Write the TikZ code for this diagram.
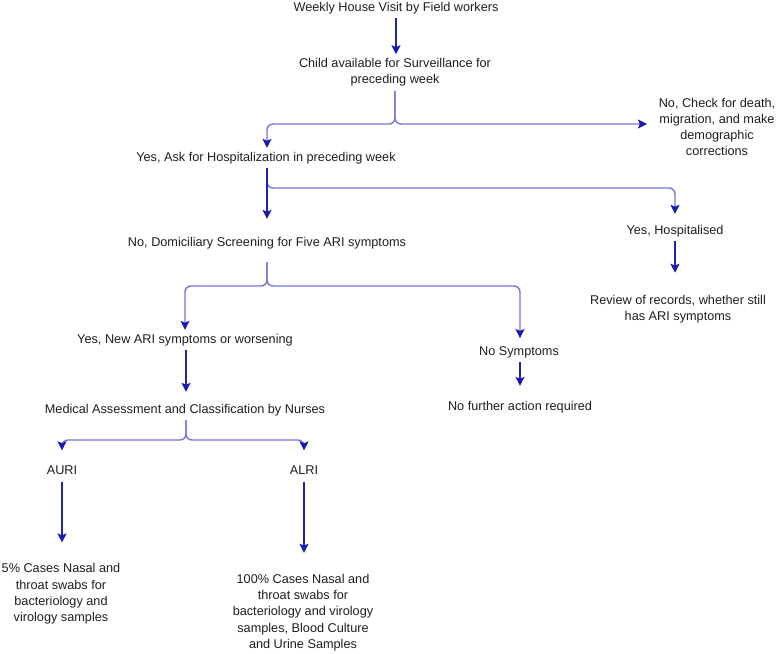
\documentclass[tikz,border=0pt]{standalone}
\usepackage{fontspec}
\setmainfont{Liberation Sans}
\usetikzlibrary{arrows.meta}
\definecolor{navy}{RGB}{36,36,168}
\definecolor{lav}{RGB}{118,118,212}
\definecolor{tipc}{RGB}{26,26,172}
\tikzset{
  lbl/.style={inner xsep=2pt, inner ysep=4pt, align=center, text=black!88, font=\fontsize{12.7}{16.3}\selectfont},
  arr/.style={draw=navy, line width=1.4pt, -{Stealth[width=9pt,length=9pt,inset=1.8pt,color=tipc]}},
  br/.style={draw=lav, line width=1.4pt, rounded corners=6pt, -{Stealth[width=9pt,length=9pt,inset=1.8pt,color=tipc]}},
}
\begin{document}
\begin{tikzpicture}[x=1pt,y=-1pt]
\useasboundingbox (0,0) rectangle (778,653);
\fill[white] (0,0) rectangle (778,653);

\node[lbl] (w) at (396,8) {Weekly House Visit by Field workers};
\node[lbl] (c) at (395,72.5) {Child available for Surveillance for\\preceding week};
\node[lbl] (nd) at (717,127) {No, Check for death,\\migration, and make\\demographic\\corrections};
\node[lbl] (y1) at (266,158) {Yes, Ask for Hospitalization in preceding week};
\node[lbl] (dom) at (267,243) {No, Domiciliary Screening for Five ARI symptoms};
\node[lbl] (hosp) at (675,231) {Yes, Hospitalised};
\node[lbl] (rev) at (678,309) {Review of records, whether still\\has ARI symptoms};
\node[lbl] (yes2) at (185,340) {Yes, New ARI symptoms or worsening};
\node[lbl] (nos) at (519,352) {No Symptoms};
\node[lbl] (nf) at (520,407) {No further action required};
\node[lbl] (med) at (185,410) {Medical Assessment and Classification by Nurses};
\node[lbl] (auri) at (62,470) {AURI};
\node[lbl] (alri) at (304,470) {ALRI};
\node[lbl] (s5) at (61,594) {5\% Cases Nasal and\\throat swabs for\\bacteriology and\\virology samples};
\node[lbl] (s100) at (303,612.5) {100\% Cases Nasal and\\throat swabs for\\bacteriology and virology\\samples, Blood Culture\\and Urine Samples};

\coordinate (b1) at (395,124);
\coordinate (e1) at (647,124);
\coordinate (b2) at (267,188);
\coordinate (b3) at (267,286);
\coordinate (b4) at (186,440);

% connectors
\draw[arr] (w.south -| 396,0) -- (c.north -| 396,0);

\draw[br] (c.south -| b1) -- (b1) -| (y1.north -| b2);
\draw[br] (c.south -| b1) -- (b1) -- (e1);

\draw[br, shorten >=7pt] (y1.south -| b2) -- (b2) -| (hosp.north);
\draw[arr, shorten >=14pt] (y1.south -| b2) -- (dom.north -| b2);

\draw[arr, shorten >=18pt] (hosp.south) -- (hosp.south |- rev.north);

\draw[br, shorten <=9pt] (dom.south -| b3) -- (b3) -| (yes2.north);
\draw[br, shorten <=9pt, shorten >=4pt] (dom.south -| b3) -- (b3) -| (nos.north -| nf);

\draw[arr, shorten >=11pt] (nos.south -| nf) -- (nf.north);
\draw[arr, shorten >=8pt] (yes2.south -| b4) -- (med.north -| b4);

\draw[br, shorten >=11pt] (med.south -| b4) -- (b4) -| (auri.north);
\draw[br, shorten >=11pt] (med.south -| b4) -- (b4) -| (alri.north);

\draw[arr, shorten <=3pt, shorten >=17pt] (auri.south) -- (auri.south |- s5.north);
\draw[arr, shorten <=3pt, shorten >=17pt] (alri.south) -- (alri.south |- s100.north);
\end{tikzpicture}
\end{document}
